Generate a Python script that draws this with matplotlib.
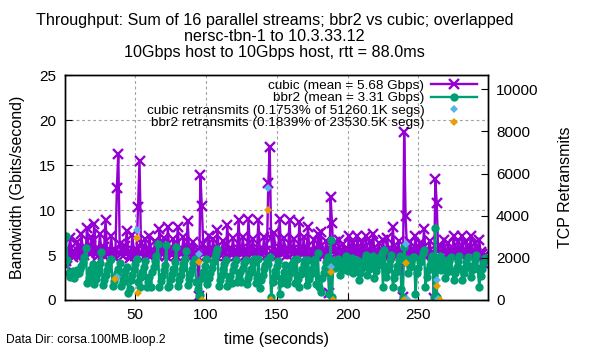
import matplotlib
matplotlib.use("Agg")
import matplotlib.pyplot as plt
from matplotlib.lines import Line2D

plt.rcParams["font.family"] = ["Liberation Sans", "DejaVu Sans"]

# one sample per second
seconds = list(range(1, 299))

cubic_gbps = [
    4.3, 3.8, 5.6, 6.9, 5.2, 4.8, 5.5, 5.0, 6.5, 5.3,
    4.9, 7.3, 5.4, 5.0, 5.8, 8.0, 5.6, 5.1, 7.0, 5.4,
    8.5, 5.7, 5.2, 4.9, 7.4, 5.5, 5.0, 5.9, 8.9, 5.6,
    5.1, 5.3, 7.1, 5.2, 4.8, 5.4, 12.5, 16.3, 6.2, 5.1,
    4.9, 5.5, 6.0, 7.7, 5.3, 4.7, 5.1, 7.2, 5.4, 4.9,
    5.6, 10.4, 15.5, 6.4, 5.2, 4.8, 6.8, 5.3, 5.0, 7.1,
    5.5, 5.0, 5.3, 6.6, 5.2, 4.9, 7.9, 5.6, 5.1, 6.9,
    5.3, 4.9, 8.1, 5.7, 5.2, 5.0, 6.8, 5.4, 4.9, 8.1,
    5.6, 5.1, 5.3, 7.0, 5.4, 5.0, 8.8, 5.8, 5.2, 4.9,
    6.5, 5.3, 5.0, 5.6, 0.4, 13.9, 10.5, 6.2, 5.3, 4.9,
    5.4, 7.1, 5.5, 5.0, 6.8, 5.3, 4.9, 7.8, 5.6, 5.1,
    5.3, 6.6, 5.2, 4.9, 8.4, 5.7, 5.2, 5.0, 6.9, 5.4,
    4.9, 5.5, 8.9, 5.6, 5.1, 7.0, 5.3, 5.0, 5.6, 9.0,
    5.7, 5.2, 6.8, 5.3, 4.9, 5.5, 8.9, 5.6, 5.1, 5.3,
    7.0, 5.4, 5.0, 13.0, 17.0, 6.9, 5.2, 7.5, 5.4, 4.9,
    5.5, 9.0, 5.7, 5.1, 6.9, 5.3, 5.0, 5.6, 8.9, 5.5,
    5.1, 6.8, 5.3, 4.9, 5.4, 8.7, 5.6, 5.1, 7.0, 5.3,
    4.9, 8.1, 5.5, 5.0, 5.3, 6.7, 5.2, 4.9, 7.3, 5.4,
    7.6, 5.3, 5.0, 5.4, 6.6, 5.1, 0.8, 11.5, 8.6, 5.3,
    6.5, 5.2, 5.0, 6.7, 5.3, 5.1, 6.2, 5.2, 5.0, 5.4,
    7.1, 5.3, 5.0, 6.4, 5.2, 5.1, 7.1, 5.4, 5.0, 6.4,
    5.2, 5.0, 7.1, 5.3, 5.1, 6.5, 5.2, 7.4, 5.3, 5.0,
    5.2, 6.3, 5.1, 5.0, 6.7, 5.3, 5.1, 6.9, 5.2, 5.0,
    5.4, 8.1, 5.5, 5.1, 5.0, 6.6, 5.2, 5.4, 0.3, 18.7,
    9.3, 5.6, 5.2, 6.5, 5.3, 5.0, 5.4, 7.1, 5.3, 5.0,
    6.4, 5.2, 5.1, 7.9, 5.4, 5.0, 5.3, 6.6, 5.2, 5.0,
    0.2, 13.5, 10.8, 5.4, 6.0, 5.2, 5.0, 6.7, 5.3, 5.1,
    6.3, 5.2, 5.0, 5.4, 7.1, 5.3, 5.1, 6.5, 5.2, 5.0,
    7.1, 5.4, 5.1, 6.5, 5.2, 5.0, 7.1, 5.3, 5.1, 6.3,
    5.2, 5.0, 6.7, 5.3, 5.1, 4.1, 5.0, 4.6,
]

bbr2_gbps = [
    7.1, 4.5, 3.0, 2.6, 2.8, 3.2, 2.5, 2.9, 3.3, 3.0,
    3.4, 3.8, 4.2, 4.8, 5.8, 1.9, 2.4, 3.0, 3.5, 4.0,
    1.8, 2.3, 2.9, 3.4, 4.1, 5.3, 1.7, 2.2, 2.8, 3.3,
    3.9, 4.5, 4.6, 1.6, 2.1, 2.6, 3.0, 3.5, 4.1, 1.6,
    2.0, 2.6, 3.2, 3.7, 0.8, 1.2, 2.2, 2.8, 3.4, 4.0,
    4.6, 2.0, 1.5, 2.6, 3.1, 3.7, 4.3, 1.5, 2.0, 2.6,
    1.5, 3.1, 3.7, 4.3, 4.9, 6.2, 1.5, 2.1, 2.7, 3.3,
    3.9, 6.1, 1.5, 1.6, 2.3, 2.9, 3.5, 4.2, 5.9, 1.6,
    2.2, 2.8, 3.4, 4.0, 4.6, 5.4, 1.7, 2.3, 2.9, 3.5,
    4.1, 4.6, 2.0, 1.2, 0.4, 0.5, 2.5, 3.1, 3.8, 4.6,
    1.8, 2.4, 3.0, 3.6, 4.2, 4.8, 5.2, 5.7, 1.6, 2.2,
    2.8, 3.4, 4.0, 4.5, 1.6, 2.1, 2.7, 1.9, 3.3, 3.9,
    4.4, 2.0, 2.5, 3.1, 2.0, 3.6, 4.1, 4.5, 1.8, 2.4,
    3.0, 3.5, 4.1, 4.6, 1.9, 2.5, 4.6, 1.3, 2.2, 2.8,
    3.4, 3.9, 4.4, 4.0, 4.8, 0.3, 2.0, 2.6, 3.2, 3.8,
    4.3, 0.7, 1.9, 2.5, 3.1, 3.9, 1.8, 2.4, 3.0, 3.5,
    4.0, 4.4, 1.9, 4.6, 2.3, 1.5, 2.9, 3.5, 4.0, 4.5,
    1.7, 4.5, 2.3, 2.9, 3.5, 4.0, 4.6, 1.8, 5.2, 1.5,
    0.9, 2.4, 3.0, 3.6, 4.2, 4.8, 0.7, 6.7, 0.3, 4.3,
    3.6, 4.1, 4.6, 3.8, 2.8, 3.3, 3.9, 4.4, 4.9, 3.2,
    3.7, 4.2, 4.7, 3.0, 3.5, 4.0, 4.5, 2.2, 3.0, 3.6,
    4.1, 4.6, 5.0, 2.8, 3.4, 3.9, 4.4, 4.9, 2.5, 3.2,
    3.8, 4.3, 4.8, 5.2, 1.5, 5.6, 2.6, 3.3, 3.9, 4.5,
    5.0, 1.5, 2.4, 3.1, 3.8, 4.4, 4.9, 1.2, 0.3, 5.9,
    4.2, 4.6, 3.0, 3.7, 4.3, 4.8, 4.8, 0.7, 3.0, 3.6,
    4.2, 4.7, 5.2, 5.6, 1.5, 2.6, 3.3, 3.9, 4.5, 4.9,
    0.3, 8.0, 0.3, 4.5, 4.9, 3.3, 3.9, 4.4, 2.4, 3.1,
    3.7, 4.3, 4.8, 3.2, 2.2, 3.0, 3.7, 4.3, 4.9, 3.4,
    2.2, 3.0, 3.6, 4.2, 4.8, 3.8, 2.6, 3.3, 3.9, 4.5,
    5.0, 3.5, 1.5, 2.7, 3.4, 4.1, 4.7, 4.5,
]

# retransmits (right axis), only the seconds where they happened
cubic_rtx_sec = [37, 51, 95, 144, 188, 241, 242, 263, 264]
cubic_rtx = [1090, 3325, 2185, 5320, 1570, 2660, 40, 950, 30]
bbr2_rtx_sec = [36, 51, 52, 95, 97, 144, 146, 188, 190, 240, 241, 263, 265]
bbr2_rtx = [1000, 2950, 330, 1800, 0, 4270, 0, 1330, 0, 20, 1760, 670, 0]

PURPLE = "#9400d3"
GREEN = "#009e73"
SKY = "#56b4e9"
ORANGE = "#e69f00"

fig = plt.figure(figsize=(6, 3.5), dpi=100)
ax = fig.add_axes([0.1075, 0.1429, 0.7053, 0.6414])
ax2 = ax.twinx()

ax.plot(seconds, cubic_gbps, color=PURPLE, lw=1.7, marker="x", ms=6.5, mew=1.7)
ax.plot(seconds, bbr2_gbps, color=GREEN, lw=1.7, marker="o", ms=6, mew=0)
ax2.plot(cubic_rtx_sec, cubic_rtx, ls="none", marker="D", ms=4.2, color=SKY, mew=0)
ax2.plot(bbr2_rtx_sec, bbr2_rtx, ls="none", marker="D", ms=4.2, color=ORANGE, mew=0)

ax.set_xlim(0, 299)
ax.set_ylim(0, 25)
ax2.set_ylim(0, 10650)
ax.set_xticks([50, 100, 150, 200, 250])
ax.set_yticks([0, 5, 10, 15, 20, 25])
ax2.set_yticks([0, 2000, 4000, 6000, 8000, 10000])

ax.grid(True, color="#a0a0a0", ls=(0, (2.5, 2.5)), lw=0.8)
ax.tick_params(direction="in", length=5, width=0.8, labelsize=11, pad=6, right=False, top=False)
ax2.tick_params(direction="in", length=5, width=0.8, labelsize=11, pad=6)
for a in (ax, ax2):
    for s in a.spines.values():
        s.set_linewidth(1.0)

ax.set_xlabel("time (seconds)", fontsize=11.5, labelpad=7)
ax.set_ylabel("Bandwidth (Gbits/second)", fontsize=11.5, labelpad=10)
ax2.set_ylabel("TCP Retransmits", fontsize=11.5, labelpad=14)

fig.text(0.458, 1 - 13 / 350,
         "Throughput: Sum of 16 parallel streams; bbr2 vs cubic; overlapped\n"
         "nersc-tbn-1 to 10.3.33.12\n"
         "10Gbps host to 10Gbps host, rtt = 88.0ms",
         ha="center", va="top", fontsize=11.6, linespacing=1.08)
fig.text(0.01, 0.03, "Data Dir: corsa.100MB.loop.2", fontsize=8.7, ha="left", va="center")

handles = [
    Line2D([], [], color=PURPLE, lw=1.7, marker="x", ms=6.5, mew=1.7),
    Line2D([], [], color=GREEN, lw=1.7, marker="o", ms=6, mew=0),
    Line2D([], [], ls="none", marker="D", ms=4.2, color=SKY, mew=0),
    Line2D([], [], ls="none", marker="D", ms=4.2, color=ORANGE, mew=0),
]
labels = [
    "cubic (mean = 5.68 Gbps)",
    "bbr2 (mean = 3.31 Gbps)",
    "cubic retransmits (0.1753% of 51260.1K segs)",
    "bbr2 retransmits (0.1839% of 23530.5K segs)",
]
ax2.legend(handles, labels, loc="upper right", bbox_to_anchor=(1.0, 1.03),
           frameon=False, markerfirst=False, numpoints=1, fontsize=9.7,
           handlelength=3.4, handletextpad=0.5, labelspacing=0.0,
           borderpad=0.3)

fig.savefig("out.png", dpi=100)
